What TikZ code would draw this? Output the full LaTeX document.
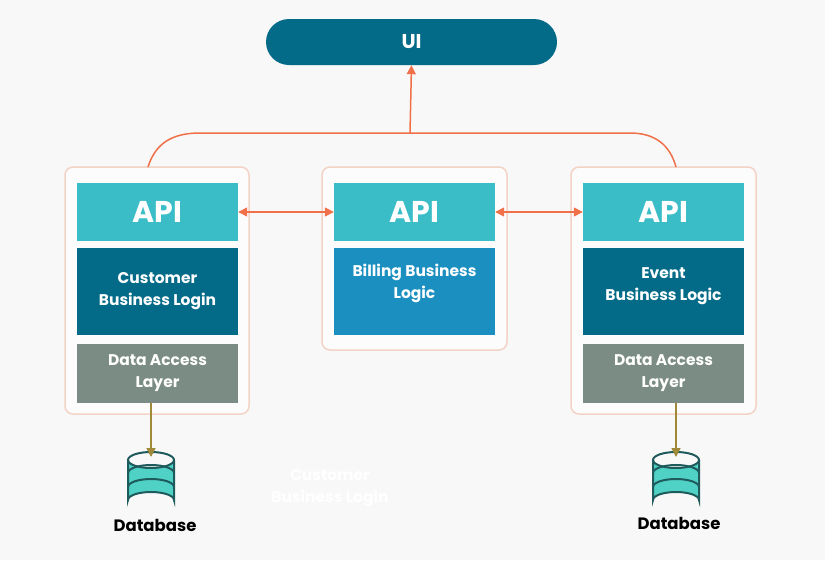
\documentclass[tikz,border=0pt]{standalone}
\usepackage{fontspec}
\setmainfont{Poppins}
\usetikzlibrary{arrows.meta}
\definecolor{bg}{HTML}{F8F8F8}
\definecolor{dteal}{HTML}{036B88}
\definecolor{lteal}{HTML}{3BBDC8}
\definecolor{blu}{HTML}{1A8FC0}
\definecolor{gry}{HTML}{7B8C84}
\definecolor{org}{HTML}{F0704A}
\definecolor{brd}{HTML}{F3D3C6}
\definecolor{olv}{HTML}{A08A3A}
\definecolor{dbf}{HTML}{4FD1C5}
\definecolor{dbl}{HTML}{1F5A5C}
\begin{document}
\begin{tikzpicture}[x=1pt,y=-1pt,
  cont/.style={draw=brd,line width=1.5pt,fill=white!60!bg,rounded corners=8pt},
  blk/.style={inner sep=0pt,minimum width=161pt,text=white,font=\bfseries,align=center},
  api/.style={blk,fill=lteal,minimum height=58pt,font=\bfseries\fontsize{30}{31}\selectfont},
  logic/.style={blk,minimum height=87pt,font=\bfseries\fontsize{15.5}{22}\selectfont},
  dal/.style={blk,fill=gry,minimum height=59pt,font=\bfseries\fontsize{15.5}{22}\selectfont},
  oarr/.style={draw=org,line width=1.5pt,-{Triangle[length=9pt,width=9pt]}},
  darr/.style={draw=org,line width=1.5pt,{Triangle[length=9pt,width=9pt]}-{Triangle[length=9pt,width=9pt]}},
  dbarr/.style={draw=olv,line width=1.5pt,-{Triangle[length=9pt,width=9pt]}},
  lbl/.style={font=\bfseries\fontsize{16.5}{18}\selectfont,text=black}]
\fill[bg] (0,0) rectangle (825,560);
\useasboundingbox (0,0) rectangle (825,560);
% UI
\node[fill=dteal,rounded corners=23pt,minimum width=291pt,minimum height=46pt,text=white,font=\bfseries\fontsize{20}{22}\selectfont] (ui) at (411.5,42) {UI};
% containers
\draw[cont] (65,167) rectangle (249,414);
\draw[cont] (322,167) rectangle (507,350);
\draw[cont] (571,167) rectangle (756,414);
\coordinate (lt) at (148,167);
\coordinate (rt) at (676,167);
\coordinate (mid) at (410,133);
% left stack
\node[api] (api1) at (157.5,212) {API};
\node[logic,fill=dteal] (cbl) at (157.5,291.5) {Customer\\Business Login};
\node[dal] (dal1) at (157.5,373.5) {Data Access\\Layer};
% middle
\node[api] (api2) at (414.5,212) {API};
\node[logic,fill=blu,text depth=20pt] (bbl) at (414.5,291.5) {Billing Business\\Logic};
% right
\node[api] (api3) at (663.5,212) {API};
\node[logic,fill=dteal,text depth=14pt] (ebl) at (663.5,291.5) {Event\\Business Logic};
\node[dal] (dal3) at (663.5,373.5) {Data Access\\Layer};
% top connector
\draw[org,line width=1.5pt] (lt) .. controls (155,145) and (170,133) .. (200,133) -- (630,133) .. controls (655,133) and (670,145) .. (rt);
\draw[oarr] (mid) -- (ui.south);
\draw[darr] (api1.east) -- (api2.west);
\draw[darr] (api2.east) -- (api3.west);
% databases
\foreach \n/\cx in {db1/151,db3/676}{
  \begin{scope}[shift={(\cx,480)}]
    \fill[dbf] (-23,-20) -- (-23,20) arc[start angle=180,end angle=360,x radius=23,y radius=8] -- (23,-20) arc[start angle=0,end angle=180,x radius=23,y radius=8];
    \draw[dbl,line width=2pt] (-23,-20) -- (-23,20) arc[start angle=180,end angle=360,x radius=23,y radius=8] -- (23,-20);
    \draw[dbl,line width=2pt] (0,-20) ellipse[x radius=23,y radius=8];
    \draw[dbl,line width=2pt] (-23,-7) arc[start angle=180,end angle=360,x radius=23,y radius=8];
    \draw[dbl,line width=2pt] (-23,7) arc[start angle=180,end angle=360,x radius=23,y radius=8];
  \end{scope}
  \coordinate (\n) at (\cx,457);
}
\coordinate (d1s) at (151,403);
\coordinate (d3s) at (676,403);
\draw[dbarr] (d1s) -- (db1);
\draw[dbarr] (d3s) -- (db3);
\node[lbl] (l1) at (155,525) {Database};
\node[lbl] (l3) at (679,523) {Database};
\node[font=\bfseries\fontsize{15.5}{22}\selectfont,text=white,align=center] (ghost) at (330,488) {Customer\\Business Login};
\end{tikzpicture}
\end{document}
